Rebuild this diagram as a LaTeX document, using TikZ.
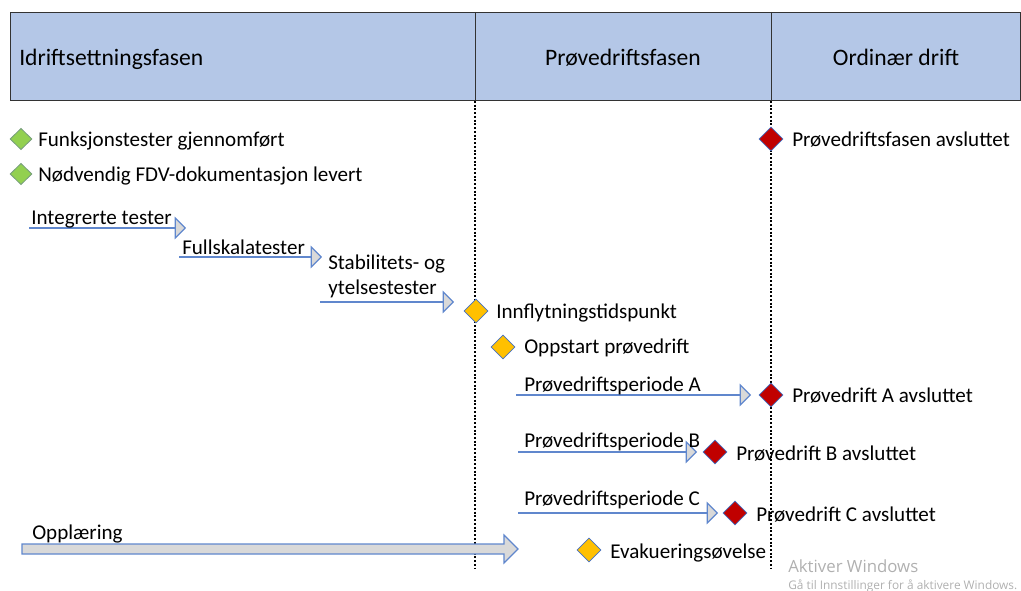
\documentclass[tikz,border=0pt]{standalone}
\usepackage{fontspec}
\setmainfont{Carlito}
\newfontfamily\wmfont{Open Sans}
\usetikzlibrary{shapes.geometric,arrows.meta}
\definecolor{hdrfill}{HTML}{B4C7E7}
\definecolor{lnblue}{HTML}{4472C4}
\definecolor{headgray}{HTML}{D9D9D9}
\definecolor{msgreen}{HTML}{92D050}
\definecolor{msyellow}{HTML}{FFC000}
\definecolor{msred}{HTML}{C00000}
\definecolor{wmgray}{HTML}{B0B0B0}
\tikzset{
  hdr/.style={draw=black!80, fill=hdrfill, line width=0.6pt},
  hdrtxt/.style={font=\fontsize{17.7pt}{21pt}\selectfont, inner sep=0pt},
  txt/.style={font=\fontsize{15.8pt}{19pt}\selectfont, inner sep=0pt, anchor=base west, yshift=-1.5pt},
  ms/.style={diamond, draw=lnblue, line width=0.6pt, inner sep=0pt, minimum width=18pt, minimum height=18pt, aspect=1},
  msg/.style={ms, fill=msgreen, draw=lnblue!40!msgreen!70!gray, minimum width=16.5pt, minimum height=16pt},
  msy/.style={ms, fill=msyellow},
  msr/.style={ms, fill=msred},
  phase/.style={draw=black, line width=1.5pt, dash pattern=on 1.5pt off 1.3pt},
  task/.style={draw=lnblue!85, line width=0.9pt, -{Triangle[length=8.5pt, width=17pt, fill=headgray, line width=0.9pt]}},
}
\begin{document}
\begin{tikzpicture}[x=0.75pt, y=-0.75pt]
\useasboundingbox (0,0) rectangle (1021,591);
% header
\draw[hdr] (10,12) rectangle (1020,100);
\draw[black!80, line width=0.6pt] (475,12) -- (475,100);
\draw[black!80, line width=0.6pt] (771,12) -- (771,100);
\node[hdrtxt, anchor=base west] (h1) at (19,66) {Idriftsettningsfasen};
\node[hdrtxt, anchor=base] (h2) at (623,66) {Prøvedriftsfasen};
\node[hdrtxt, anchor=base] (h3) at (896,66) {Ordinær drift};
% phase lines
\coordinate (p1t) at (475,101);
\coordinate (p1b) at (475,568);
\coordinate (p2t) at (771,101);
\coordinate (p2b) at (771,568);
\draw[phase] (p1t) -- (p1b);
\draw[phase] (p2t) -- (p2b);
% green milestones
\node[msg] (g1) at (21,139) {};
\node[txt] (g1t) at (38,145) {Funksjonstester gjennomført};
\node[msg] (g2) at (21,174) {};
\node[txt] (g2t) at (38,180) {Nødvendig FDV-dokumentasjon levert};
% red top
\node[msr] (r0) at (771,139) {};
\node[txt] (r0t) at (792,145) {Prøvedriftsfasen avsluttet};
% test arrows
\coordinate (a1s) at (29,228);
\coordinate (a1e) at (186,228);
\draw[task] (a1s) -- (a1e);
\node[txt] (a1t) at (31,223) {Integrerte tester};
\coordinate (a2s) at (179,257);
\coordinate (a2e) at (322,257);
\draw[task] (a2s) -- (a2e);
\node[txt] (a2t) at (182,253) {Fullskalatester};
\coordinate (a3s) at (320,302);
\coordinate (a3e) at (454,302);
\draw[task] (a3s) -- (a3e);
\node[txt] (a3t) at (328,268) {Stabilitets- og};
\node[txt] (a3u) at (328,293) {ytelsestester};
% yellow
\node[msy] (y1) at (476,311) {};
\node[txt] (y1t) at (496,317) {Innflytningstidspunkt};
\node[msy] (y2) at (503,347) {};
\node[txt] (y2t) at (524,352) {Oppstart prøvedrift};
% periods
\coordinate (pas) at (516,395);
\coordinate (pae) at (751,395);
\draw[task] (pas) -- (pae);
\node[txt] (pat) at (524,390) {Prøvedriftsperiode A};
\node[msr] (ra) at (771,395) {};
\node[txt] (rat) at (792,401) {Prøvedrift A avsluttet};
\coordinate (pbs) at (518,452);
\coordinate (pbe) at (697,452);
\draw[task] (pbs) -- (pbe);
\node[txt] (pbt) at (524,445) {Prøvedriftsperiode B};
\node[msr] (rb) at (715,452) {};
\node[txt] (rbt) at (736,458) {Prøvedrift B avsluttet};
\coordinate (pcs) at (518,513);
\coordinate (pce) at (718,513);
\draw[task] (pcs) -- (pce);
\node[txt] (pct) at (524,503) {Prøvedriftsperiode C};
\node[msr] (rc) at (735,513) {};
\node[txt] (rct) at (756,519) {Prøvedrift C avsluttet};
% opplaering block arrow
\filldraw[fill=headgray, draw=lnblue!85, line width=0.9pt]
  (22,544) -- (504,544) -- (504,535) -- (518,549) -- (504,563) -- (504,554) -- (22,554) -- cycle;
\node[txt] (opt) at (32,537) {Opplæring};
% evakuering
\node[msy] (y3) at (589,550) {};
\node[txt] (y3t) at (610,556) {Evakueringsøvelse};
% watermark
\node[inner sep=0pt, anchor=base west, text=wmgray, font=\wmfont\fontsize{12.6pt}{15pt}\selectfont] (wm1) at (788,572) {Aktiver Windows};
\node[inner sep=0pt, anchor=base west, text=wmgray, font=\wmfont\fontsize{8.9pt}{10pt}\selectfont] (wm2) at (788,589) {Gå til Innstillinger for å aktivere Windows.};
\end{tikzpicture}
\end{document}
